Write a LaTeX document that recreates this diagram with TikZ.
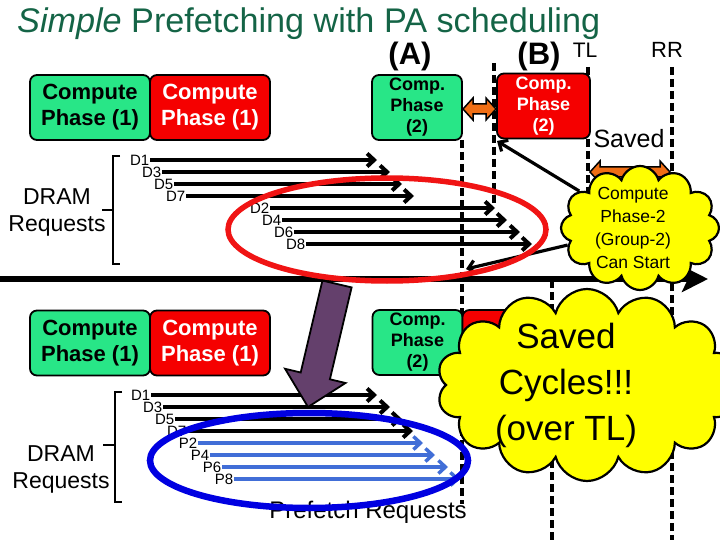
\documentclass[tikz,border=0pt]{standalone}
\usepackage{fontspec}
\setmainfont{Liberation Sans}
\definecolor{titlegreen}{RGB}{20, 100, 70}
\definecolor{phasegreen}{RGB}{40, 230, 135}
\definecolor{phasered}{RGB}{245, 0, 0}
\definecolor{swaporange}{RGB}{240, 110, 20}
\definecolor{loopred}{RGB}{240, 20, 20}
\definecolor{loopblue}{RGB}{0, 0, 225}
\definecolor{prefblue}{RGB}{65, 110, 215}
\definecolor{movepurple}{RGB}{100, 64, 108}
\definecolor{cloudyellow}{RGB}{255, 255, 0}
\usetikzlibrary{shapes, arrows.meta, positioning, calc}
\newcommand{\pxfont}[2]{\fontsize{#1pt}{#2pt}\selectfont}

\begin{document}
\begin{tikzpicture}[x=1pt, y=-1pt,
  phasebox/.style={draw=black, line width=1.8pt, rounded corners=7pt, inner sep=0pt, align=center},
  onebox/.style={phasebox, minimum width=120pt, minimum height=65pt, font=\bfseries\pxfont{22}{26}},
  twobox/.style={phasebox, minimum width=90pt, minimum height=65pt, font=\bfseries\pxfont{18}{21}},
  dlabel/.style={font=\pxfont{15}{15}, inner sep=0.5pt, anchor=east},
  dreq/.style={line width=4pt, -{Straight Barb[length=7pt, width=13pt]}},
  preq/.style={dreq, prefblue, line width=3.5pt},
  dashline/.style={line width=3.2pt, dash pattern=on 8pt off 4pt},
  swaparrow/.style={fill=swaporange, draw=black, line width=1.5pt, line join=miter},
  puffcloud/.style={cloud, cloud puffs=12, cloud ignores aspect, draw=black, line width=2.2pt, fill=cloudyellow, inner sep=0pt},
  cloudarrow/.style={line width=3.2pt, -{Straight Barb[length=7pt, width=13pt]}}]
  \useasboundingbox (0,0) rectangle (720,540);
  \clip (0,0) rectangle (720,540);

  % Title and column heads
  \node[anchor=base west, font=\pxfont{34.2}{40}, text=titlegreen, inner sep=0pt] (title) at (17,33) {\textit{Simple} Prefetching with PA scheduling};
  \node[anchor=base, font=\bfseries\pxfont{31}{31}, inner sep=0pt] (headA) at (410,65) {(A)};
  \node[anchor=base, font=\bfseries\pxfont{31}{31}, inner sep=0pt] (headB) at (539,65) {(B)};
  \node[anchor=base, font=\pxfont{21}{21}, inner sep=0pt] (headTL) at (585,58) {TL};
  \node[anchor=base, font=\pxfont{22}{22}, inner sep=0pt] (headRR) at (667,58) {RR};

  % Dashed time marks
  \draw[dashline] (462,140) -- (462,504);
  \draw[dashline] (494,63) -- (494,203);
  \draw[dashline] (588,67) -- (588,200);
  \draw[dashline] (672,67) -- (672,540);
  \draw[dashline] (552,280) -- (552,540);

  % Time line
  \coordinate (tstart) at (0,279);
  \coordinate (tend) at (708,279);
  \draw[line width=6pt, -{Stealth[length=26pt, width=26pt, inset=6pt]}] (tstart) -- (tend);

  % Upper panel
  \node[onebox, fill=phasegreen] (up1g) at (90,107.5) {Compute\\Phase (1)};
  \node[onebox, fill=phasered, text=white] (up1r) at (210,107.5) {Compute\\Phase (1)};
  \node[twobox, fill=phasegreen] (up2g) at (417,107.5) {Comp.\\Phase\\(2)};
  \node[twobox, fill=phasered, text=white, minimum width=93pt] (up2r) at (543.5,106) {Comp.\\Phase\\(2)};
  \draw[swaparrow] (463,109) -- (473,98) -- (473,104) -- (486,104) -- (486,98) -- (496,109)
    -- (486,120) -- (486,114) -- (473,114) -- (473,120) -- cycle;
  \node[anchor=base, font=\pxfont{25}{25}, inner sep=0pt] (savedlbl) at (629,148) {Saved};
  \draw[swaparrow] (590,172) -- (600,161) -- (600,167) -- (660,167) -- (660,161) -- (670,172)
    -- (660,183) -- (660,177) -- (600,177) -- (600,183) -- cycle;

  % Upper DRAM requests
  \node[font=\pxfont{23}{27}, align=center] (dramup) at (57,212) {DRAM\\Requests};
  \draw[line width=2.4pt] (120,156) -| (113,264) -- (120,264);
  \draw[line width=2.4pt] (113,210) -- (102,210);
  \foreach \lab/\x/\y/\xe in {D1/150/160/377, D3/162/172/390, D5/174/184/402, D7/186/196/414,
      D2/270/208/495, D4/282/220/507, D6/294/232/520, D8/306/244/532} {
    \node[dlabel] (u\lab) at (\x,\y) {\lab};
    \coordinate (u\lab e) at (\xe,\y);
    \draw[dreq] (u\lab) -- (u\lab e);
  }

  % Group-2 can start
  \node[puffcloud, minimum width=158pt, minimum height=124pt] (startcloud) at (640,228) {};
  \node[font=\pxfont{17.5}{23}, align=center] (starttext) at (633,228) {Compute\\Phase-2\\(Group-2)\\Can Start};
  \coordinate (bcorner) at (497,141);
  \coordinate (afront) at (466,269);
  \draw[cloudarrow] (startcloud) -- (bcorner);
  \draw[cloudarrow] (startcloud) -- (afront);

  \draw[loopred, line width=5.5pt] (387,229.5) ellipse [x radius=159, y radius=51.5];

  % Lower panel
  \node[onebox, fill=phasegreen] (lo1g) at (90,343) {Compute\\Phase (1)};
  \node[onebox, fill=phasered, text=white] (lo1r) at (210,343) {Compute\\Phase (1)};
  \node[twobox, fill=phasegreen] (lo2g) at (417.5,342.5) {Comp.\\Phase\\(2)};
  \node[twobox, fill=phasered, minimum width=93pt] (lo2r) at (509,342.5) {};

  \node[font=\pxfont{23}{27}, align=center] (dramlo) at (61,469) {DRAM\\Requests};
  \draw[line width=2.4pt] (122,392) -| (115,502) -- (122,502);
  \draw[line width=2.4pt] (115,445) -- (103,445);
  \foreach \lab/\x/\y/\xe in {D1/151/395/377, D3/163/407/390, D5/175/419/402, D7/187/431/413} {
    \node[dlabel] (l\lab) at (\x,\y) {\lab};
    \coordinate (l\lab e) at (\xe,\y);
    \draw[dreq] (l\lab) -- (l\lab e);
  }
  \foreach \lab/\x/\y/\xe in {P2/198/443/423, P4/210/455/435, P6/222/467/448, P8/234/479/460} {
    \node[dlabel] (l\lab) at (\x,\y) {\lab};
    \coordinate (l\lab e) at (\xe,\y);
    \draw[preq] (l\lab) -- (l\lab e);
  }
  \node[anchor=base, font=\pxfont{24}{24}, inner sep=0pt] (preftext) at (368,518) {Prefetch Requests};
  \draw[loopblue, line width=6.5pt] (309,460.5) ellipse [x radius=159, y radius=47.5];

  % Move down
  \draw[fill=movepurple, line width=1.8pt, line join=miter] (351.6,287.4) -- (329.9,379.3) -- (345.5,383.0)
    -- (308,407) -- (285.1,368.8) -- (300.7,372.5) -- (322.4,280.6) -- cycle;

  % Saved cycles
  \node[puffcloud, cloud puffs=14, minimum width=300pt, minimum height=192pt] (savedcloud) at (587,385) {};
  \node[font=\pxfont{35}{46}, align=center] (savedtext) at (566,385) {Saved\\Cycles!!!\\(over TL)};
\end{tikzpicture}
\end{document}
